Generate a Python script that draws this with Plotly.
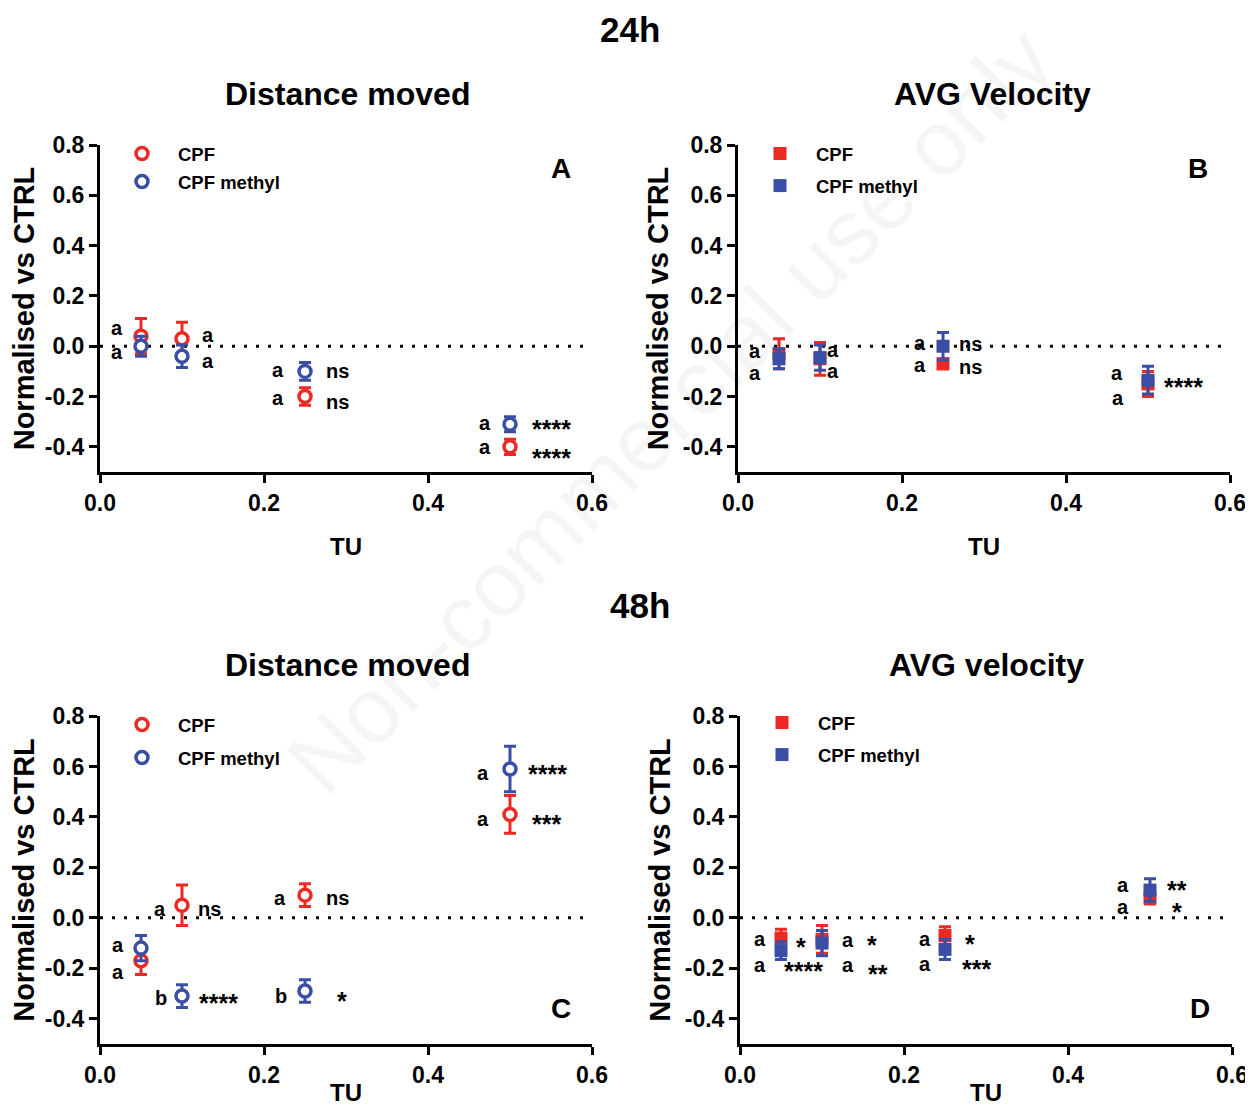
import plotly.graph_objects as go

# ---------------- data ----------------
tu = [0.05, 0.1, 0.25, 0.5]
series_names = ["CPF", "CPF methyl"]

# 24h - Distance moved (A)
a_cpf = [0.04, 0.03, -0.20, -0.40]
a_cpf_err = [0.07, 0.065, 0.035, 0.03]
a_met = [0.00, -0.04, -0.10, -0.31]
a_met_err = [0.04, 0.045, 0.035, 0.03]

# 24h - AVG Velocity (B)
b_cpf = [-0.03, -0.05, -0.07, -0.15]
b_cpf_err = [0.06, 0.065, 0.02, 0.05]
b_met = [-0.05, -0.045, 0.00, -0.135]
b_met_err = [0.04, 0.05, 0.055, 0.055]

# 48h - Distance moved (C)
c_cpf = [-0.17, 0.05, 0.09, 0.41]
c_cpf_err = [0.055, 0.08, 0.045, 0.075]
c_met = [-0.12, -0.31, -0.29, 0.59]
c_met_err = [0.05, 0.045, 0.045, 0.09]

# 48h - AVG velocity (D)
d_cpf = [-0.08, -0.085, -0.07, 0.08]
d_cpf_err = [0.035, 0.055, 0.035, 0.025]
d_met = [-0.13, -0.10, -0.125, 0.11]
d_met_err = [0.035, 0.05, 0.04, 0.045]

x_ticks = [0.0, 0.2, 0.4, 0.6]
y_ticks = [-0.4, -0.2, 0.0, 0.2, 0.4, 0.6, 0.8]

# significance labels (x, y in data units, text)
a_lab_x = [0.021, 0.021, 0.132, 0.132, 0.217, 0.290, 0.217, 0.290, 0.470, 0.550, 0.470, 0.550]
a_lab_y = [0.075, -0.020, 0.048, -0.056, -0.091, -0.095, -0.203, -0.219, -0.302, -0.306, -0.398, -0.421]
a_lab_t = ["a", "a", "a", "a", "a", "ns", "a", "ns", "a", "****", "a", "****"]

b_lab_x = [0.021, 0.021, 0.116, 0.116, 0.222, 0.283, 0.222, 0.283, 0.462, 0.463, 0.543]
b_lab_y = [-0.016, -0.103, -0.012, -0.095, 0.016, 0.012, -0.072, -0.080, -0.103, -0.203, -0.139]
b_lab_t = ["a", "a", "a", "a", "a", "ns", "a", "ns", "a", "a", "****"]

c_lab_x = [0.022, 0.022, 0.073, 0.134, 0.074, 0.144, 0.2195, 0.290, 0.221, 0.295, 0.467, 0.546, 0.467, 0.544]
c_lab_y = [-0.103, -0.211, 0.040, 0.040, -0.314, -0.314, 0.083, 0.083, -0.306, -0.306, 0.580, 0.592, 0.394, 0.394]
c_lab_t = ["a", "a", "a", "ns", "b", "****", "a", "ns", "b", "*", "a", "****", "a", "***"]

d_lab_x = [0.024, 0.074, 0.024, 0.077, 0.132, 0.161, 0.132, 0.168, 0.2256, 0.280, 0.2256, 0.289, 0.467, 0.533, 0.467, 0.533]
d_lab_y = [-0.080, -0.091, -0.183, -0.187, -0.083, -0.083, -0.183, -0.199, -0.080, -0.080, -0.179, -0.179, 0.135, 0.135, 0.048, 0.048]
d_lab_t = ["a", "*", "a", "****", "a", "*", "a", "**", "a", "*", "a", "***", "a", "**", "a", "*"]

# ---------------- style ----------------
RED = "#ec2a23"
BLUE = "#3a4ea6"
FONT = "Liberation Sans, Arial, sans-serif"
OFF = 8                      # page body margin
FW, FH = 1253 - OFF, 1114 - 2 * OFF


def fx(p):
    return (p - OFF) / FW


def fy(p):
    return 1 - (p - OFF) / FH


panels = [
    dict(n="", xd=(100, 592), yd=(145, 472), cpf=a_cpf, cpfe=a_cpf_err, met=a_met, mete=a_met_err,
         sym="circle", leg="legend", legpos=(106, 135), gap=1, letter="A", lpos=(561, 168),
         lx=a_lab_x, ly=a_lab_y, lt=a_lab_t),
    dict(n="2", xd=(738, 1230), yd=(145, 472), cpf=b_cpf, cpfe=b_cpf_err, met=b_met, mete=b_met_err,
         sym="square", leg="legend2", legpos=(744, 135), gap=5, letter="B", lpos=(1198, 168),
         lx=b_lab_x, ly=b_lab_y, lt=b_lab_t),
    dict(n="3", xd=(100, 592), yd=(716, 1044), cpf=c_cpf, cpfe=c_cpf_err, met=c_met, mete=c_met_err,
         sym="circle", leg="legend3", legpos=(106, 706), gap=6, letter="C", lpos=(561, 1008),
         lx=c_lab_x, ly=c_lab_y, lt=c_lab_t),
    dict(n="4", xd=(740, 1232), yd=(716, 1044), cpf=d_cpf, cpfe=d_cpf_err, met=d_met, mete=d_met_err,
         sym="square", leg="legend4", legpos=(746, 704), gap=5, letter="D", lpos=(1200, 1008),
         lx=d_lab_x, ly=d_lab_y, lt=d_lab_t),
]

fig = go.Figure()
layout = dict(
    width=FW, height=FH,
    margin=dict(l=0, r=0, t=0, b=0, autoexpand=False),
    paper_bgcolor="white", plot_bgcolor="white",
    font=dict(family=FONT, size=20, color="black", weight="bold"),
    showlegend=True,
)
annotations = []
shapes = []

for p in panels:
    xa = "x" + p["n"]
    ya = "y" + p["n"]
    for name, vals, errs, col in [(series_names[0], p["cpf"], p["cpfe"], RED),
                                  (series_names[1], p["met"], p["mete"], BLUE)]:
        if p["sym"] == "circle":
            marker = dict(symbol="circle", size=12, color="white", line=dict(color=col, width=3.5))
        else:
            marker = dict(symbol="square", size=13, color=col, line=dict(color=col, width=0))
        fig.add_trace(go.Scatter(
            x=tu, y=vals, mode="markers", name=name, marker=marker,
            error_y=dict(type="data", array=errs, visible=True, color=col, thickness=3, width=6),
            xaxis=xa, yaxis=ya, legend=p["leg"], legendgroup=p["leg"] + name,
            cliponaxis=False,
        ))
    layout["xaxis" + p["n"]] = dict(
        domain=[fx(p["xd"][0]), fx(p["xd"][1])], range=[0, 0.6], anchor=ya, automargin=False,
        tickvals=x_ticks, ticktext=[f"{v:.1f}" for v in x_ticks], ticklabeloverflow="allow",
        ticks="outside", ticklen=8, tickwidth=3, tickcolor="black",
        showline=True, linewidth=3, linecolor="black", showgrid=False, zeroline=False,
        tickfont=dict(size=23), title=dict(text="TU", font=dict(size=24), standoff=24),
    )
    layout["yaxis" + p["n"]] = dict(
        domain=[fy(p["yd"][1]), fy(p["yd"][0])], range=[-0.5, 0.8], anchor=xa, automargin=False,
        tickvals=y_ticks, ticktext=[f"{v:.1f}" for v in y_ticks], ticklabeloverflow="allow",
        ticks="outside", ticklen=8, tickwidth=3, tickcolor="black",
        showline=True, linewidth=3, linecolor="black", showgrid=False, zeroline=False,
        tickfont=dict(size=23), title=dict(text="Normalised vs CTRL", font=dict(size=29), standoff=6),
    )
    layout[p["leg"]] = dict(
        x=fx(p["legpos"][0]), y=fy(p["legpos"][1]), xanchor="left", yanchor="top",
        font=dict(size=18.5, family=FONT, weight="bold"), itemwidth=62, tracegroupgap=p["gap"],
        bgcolor="rgba(0,0,0,0)", borderwidth=0,
    )
    # dotted zero line
    shapes.append(dict(type="line", xref=xa, yref=ya, x0=0, x1=0.6, y0=0, y1=0,
                       line=dict(color="black", width=3, dash="3px,9px"), layer="below"))
    # panel letter
    annotations.append(dict(text=p["letter"], x=fx(p["lpos"][0]), y=fy(p["lpos"][1]),
                            xref="paper", yref="paper", showarrow=False,
                            font=dict(size=28), xanchor="center", yanchor="middle"))
    # significance labels
    for lx, ly, lt in zip(p["lx"], p["ly"], p["lt"]):
        star = "*" in lt
        annotations.append(dict(text=lt, x=lx, y=ly, xref=xa, yref=ya, showarrow=False,
                                xanchor="center", yanchor="middle",
                                font=dict(size=25 if star else 20),
                                yshift=-6 if star else -1))

# titles
for txt, xp, yp, sz in [("24h", 630, 30, 35), ("48h", 640, 605, 35),
                        ("Distance moved", 347, 94, 32), ("AVG Velocity", 992, 94, 32),
                        ("Distance moved", 347, 665, 32), ("AVG velocity", 986, 665, 32)]:
    annotations.append(dict(text=txt, x=fx(xp), y=fy(yp), xref="paper", yref="paper",
                            showarrow=False, font=dict(size=sz), xanchor="center", yanchor="middle"))

# watermark
annotations.append(dict(text="Non-commercial use only", x=fx(670), y=fy(410), xref="paper", yref="paper",
                        showarrow=False, textangle=-45,
                        font=dict(size=92, weight="normal", color="rgba(0,0,0,0.04)"),
                        xanchor="center", yanchor="middle"))

layout["annotations"] = annotations
layout["shapes"] = shapes
fig.update_layout(**layout)
fig.write_html("out.html")
